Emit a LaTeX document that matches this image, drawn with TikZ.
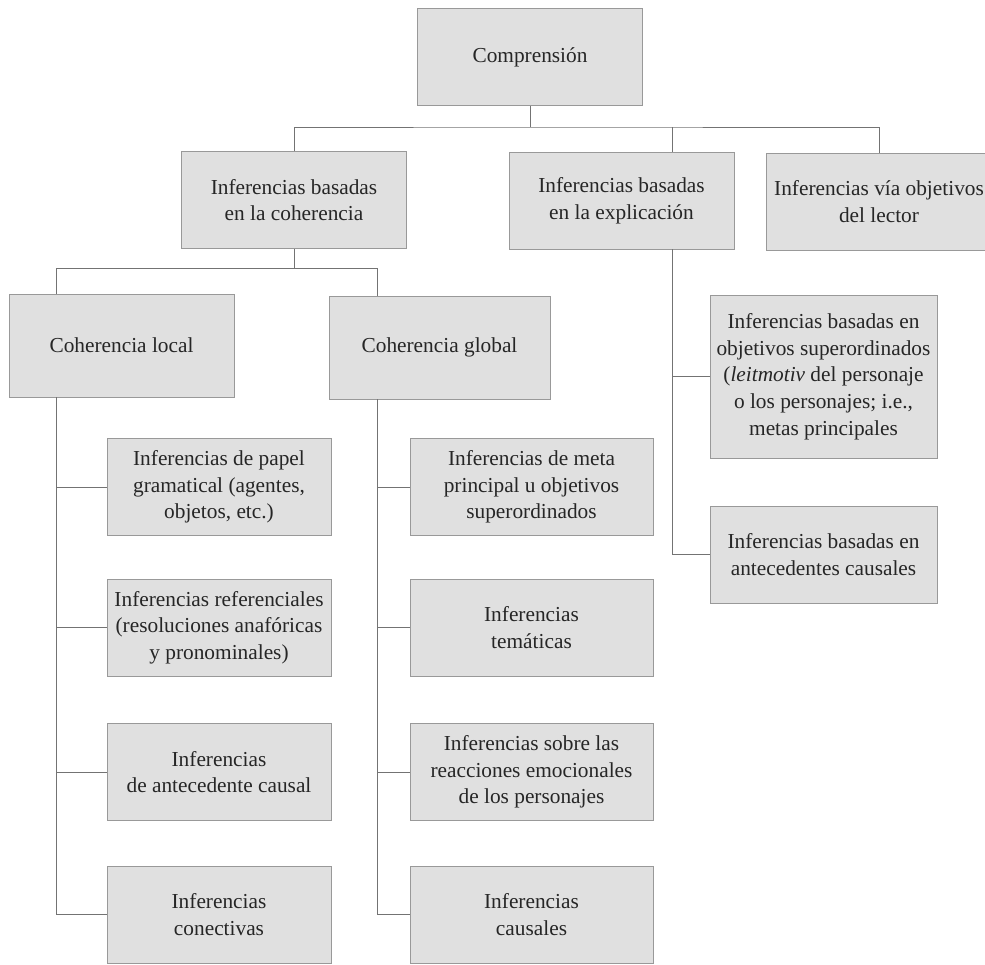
\documentclass[tikz,border=0pt]{standalone}
\usepackage{fontspec}
\setmainfont{Liberation Serif}
\begin{document}
\begin{tikzpicture}
  [x=0.75pt,y=-0.75pt,
   every node/.style={rectangle,draw=black!40,fill=black!12,text=black!85,align=center,
     font=\fontsize{16}{20}\selectfont,inner sep=2pt,minimum width=169pt,minimum height=73pt},
   midbox/.style={minimum width=182pt}]
  \useasboundingbox (0,0) rectangle (985,964);
  \node (comp) at (530,57) {Comprensión};
  \node (coh) at (294,200) {Inferencias basadas\\en la coherencia};
  \node (exp) at (621.5,200.5) {Inferencias basadas\\en la explicación};
  \node (vob) at (879,201.5) {Inferencias vía objetivos\\del lector};
  \node (loc) at (121.5,345.5) [minimum height=77pt] {Coherencia local};
  \node (glo) at (439.5,347.5) [minimum width=166pt,minimum height=77pt] {Coherencia global};
  \node (obj) at (823.5,376.5) [minimum width=170pt,minimum height=122pt] {Inferencias basadas en\\objetivos superordinados\\(\textit{leitmotiv} del personaje\\o los personajes; i.e.,\\metas principales};
  \node (ant) at (823.5,554.5) [minimum width=170pt] {Inferencias basadas en\\antecedentes causales};
  \node (l1) at (219,487) [minimum width=168pt] {Inferencias de papel\\gramatical (agentes,\\objetos, etc.)};
  \node (l2) at (219,627.5) [minimum width=168pt] {Inferencias referenciales\\(resoluciones anafóricas\\y pronominales)};
  \node (l3) at (219,772) [minimum width=168pt] {Inferencias\\de antecedente causal};
  \node (l4) at (219,914.5) [minimum width=168pt] {Inferencias\\conectivas};
  \node (m1) at (531.5,487) [midbox] {Inferencias de meta\\principal u objetivos\\superordinados};
  \node (m2) at (531.5,627.5) [midbox] {Inferencias\\temáticas};
  \node (m3) at (531.5,772) [midbox] {Inferencias sobre las\\reacciones emocionales\\de los personajes};
  \node (m4) at (531.5,914.5) [midbox] {Inferencias\\causales};
  \coordinate (bus) at (530,127);
  \coordinate (ext) at (672,127);
  \coordinate (lt) at (56,268);
  \coordinate (gt) at (377,268);
 \path[draw,line width=.6pt,black!55]
         (comp) -- (bus)
         (coh) |- (bus) -| (vob)
         (ext) -- (ext |- exp.north)
         (ext |- exp.south) |- (obj)
         (ext |- exp.south) |- (ant)
         (coh) |- (lt) -- (lt |- loc.north)
         (coh) |- (gt) -- (gt |- glo.north)
        (lt |- loc.south) |- (l1)
        (lt |- loc.south) |- (l2)
        (lt |- loc.south) |- (l3)
        (lt |- loc.south) |- (l4)
        (gt |- glo.south) |- (m1)
        (gt |- glo.south) |- (m2)
        (gt |- glo.south) |- (m3)
        (gt |- glo.south) |- (m4);

\end{tikzpicture}
\end{document}
